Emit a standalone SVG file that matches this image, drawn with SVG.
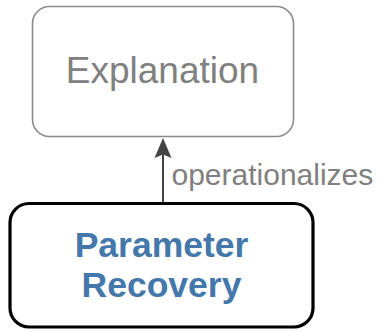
<svg xmlns="http://www.w3.org/2000/svg" width="379" height="332" viewBox="0 0 379 332">
  <defs>
    <style>
      .label { font-family: "Liberation Sans", Arial, sans-serif; }
      .muted-box { fill: #ffffff; stroke: #8a8a8a; stroke-width: 1.6; }
      .focus-box { fill: #ffffff; stroke: #000000; stroke-width: 3.2; }
      .muted-text { fill: #808080; font-size: 37px; }
      .focus-text { fill: #4477aa; font-size: 35.5px; font-weight: bold; }
      .edge { stroke: #444444; stroke-width: 2; fill: none; }
      .edge-label { fill: #808080; font-size: 30px; }
    </style>
    <!-- arrowhead drawn along +x so orient="auto" turns it with the line -->
    <marker id="arrow" viewBox="0 0 20 18" markerWidth="20" markerHeight="18" refX="8" refY="9" orient="auto" markerUnits="userSpaceOnUse">
      <path d="M20,9 L0,0.5 L3.5,9 L0,17.5 Z" fill="#444444"/>
    </marker>
  </defs>
  <rect width="379" height="332" fill="#ffffff"/>

  <g id="connectors">
    <line class="edge" x1="163" y1="203" x2="163" y2="150" marker-end="url(#arrow)"/>
    <text class="label edge-label" x="171.5" y="184.5">operationalizes</text>
  </g>

  <g id="node-explanation">
    <rect class="muted-box" x="32.5" y="6.5" width="261" height="130" rx="17" ry="17"/>
    <text class="label muted-text" x="162.5" y="83" text-anchor="middle">Explanation</text>
  </g>

  <g id="node-parameter-recovery">
    <rect class="focus-box" x="10" y="203.5" width="303" height="123.5" rx="19" ry="19"/>
    <text class="label focus-text" x="161.5" y="256.5" text-anchor="middle">Parameter</text>
    <text class="label focus-text" x="161.5" y="296.5" text-anchor="middle">Recovery</text>
  </g>
</svg>
